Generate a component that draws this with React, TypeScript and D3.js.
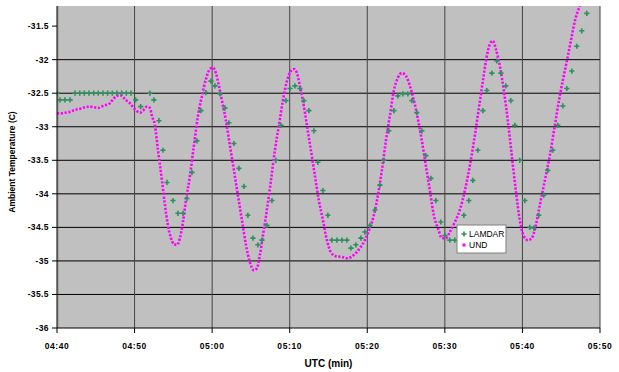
import React from 'react';
import * as d3 from 'd3';

// Axis ticks
const xTickLabels = ['04:40', '04:50', '05:00', '05:10', '05:20', '05:30', '05:40', '05:50'];
const xTickMinutes = [0, 10, 20, 30, 40, 50, 60, 70];
const yTicks = [-36, -35.5, -35, -34.5, -34, -33.5, -33, -32.5, -32, -31.5];

// UND probe: minutes after 04:40 and temperature (C)
const undTime = [
  0, 0.5, 1.03, 1.6, 2.32, 3.0, 3.61, 4.25, 4.8, 5.28,
  5.7, 6.19, 6.83, 7.22, 7.73, 8.05, 8.38, 8.76, 9.41, 10.05,
  10.7, 11.08, 11.6, 11.98, 12.24, 12.63, 13.02, 13.53, 13.92, 14.3,
  14.69, 15.08, 15.46, 15.85, 16.24, 16.62, 17.14, 17.65, 18.17, 18.69,
  19.2, 19.72, 20.1, 20.49, 20.88, 21.26, 21.78, 22.29, 22.81, 23.32,
  23.84, 24.36, 24.87, 25.39, 25.77, 26.16, 26.55, 27.06, 27.58, 28.09,
  28.61, 29.12, 29.64, 30.15, 30.54, 30.93, 31.31, 31.7, 32.22, 32.73,
  33.25, 33.76, 34.28, 34.79, 35.31, 35.95, 36.73, 37.5, 38.27, 39.05,
  39.69, 40.34, 40.85, 41.37, 41.88, 42.4, 42.91, 43.43, 43.94, 44.46,
  44.97, 45.49, 46.01, 46.52, 47.04, 47.55, 48.07, 48.58, 49.1, 49.61,
  50.13, 50.64, 51.29, 51.93, 52.58, 53.22, 53.87, 54.38, 54.9, 55.41,
  55.8, 56.19, 56.57, 57.09, 57.6, 58.12, 58.63, 59.15, 59.66, 60.18,
  60.7, 61.21, 61.73, 62.24, 62.89, 63.53, 64.18, 64.82, 65.46, 66.11,
  66.75, 67.4,
];
const undTemp = [
  -32.80, -32.80, -32.79, -32.78, -32.75, -32.73, -32.71, -32.70, -32.71, -32.72,
  -32.70, -32.68, -32.65, -32.59, -32.54, -32.53, -32.54, -32.59, -32.65, -32.74,
  -32.79, -32.76, -32.70, -32.72, -32.84, -32.98, -33.35, -33.80, -34.17, -34.47,
  -34.66, -34.75, -34.76, -34.66, -34.42, -34.10, -33.73, -33.28, -32.84, -32.54,
  -32.29, -32.14, -32.12, -32.20, -32.39, -32.61, -32.91, -33.28, -33.65, -34.02,
  -34.39, -34.76, -35.02, -35.14, -35.11, -34.91, -34.62, -34.24, -33.80, -33.35,
  -32.98, -32.61, -32.32, -32.17, -32.14, -32.20, -32.39, -32.61, -32.98, -33.35,
  -33.73, -34.10, -34.39, -34.69, -34.87, -34.93, -34.94, -34.96, -34.91, -34.81,
  -34.69, -34.51, -34.32, -34.02, -33.65, -33.21, -32.84, -32.46, -32.27, -32.20,
  -32.24, -32.39, -32.61, -32.88, -33.21, -33.58, -33.95, -34.32, -34.51, -34.66,
  -34.66, -34.57, -34.42, -34.24, -33.95, -33.58, -33.13, -32.73, -32.32, -31.95,
  -31.77, -31.72, -31.84, -32.09, -32.46, -32.91, -33.43, -33.95, -34.39, -34.63,
  -34.69, -34.66, -34.47, -34.17, -33.80, -33.43, -32.98, -32.54, -32.17, -31.80,
  -31.43, -31.20,
];

// LAMDAR probe: minutes after 04:40 and temperature (C)
const lamdarTime = [
  0, 0.39, 1.03, 1.68, 2.32, 2.93, 3.52, 4.12, 4.73, 5.32,
  5.93, 6.53, 7.13, 7.73, 8.34, 8.94, 9.54, 10.14, 10.79, 11.98,
  12.5, 13.14, 13.66, 14.18, 14.95, 15.59, 16.24, 16.75, 17.4, 18.04,
  18.56, 19.2, 19.85, 20.36, 21.01, 21.65, 22.16, 22.81, 23.45, 24.1,
  24.61, 25.26, 25.9, 26.42, 27.06, 27.71, 28.22, 28.87, 29.51, 30.03,
  30.67, 31.31, 31.83, 32.47, 33.12, 33.63, 34.28, 34.92, 35.44, 36.08,
  36.73, 37.37, 37.89, 38.53, 39.18, 39.69, 40.34, 40.98, 41.62, 42.14,
  42.78, 43.43, 43.94, 44.59, 45.23, 45.75, 46.39, 47.04, 47.55, 48.2,
  48.84, 49.48, 50.0, 50.64, 51.29, 51.8, 52.45, 53.09, 53.61, 54.25,
  54.9, 55.41, 56.06, 56.7, 57.22, 57.86, 58.51, 59.02, 59.66, 60.31,
  60.95, 61.47, 62.11, 62.76, 63.27, 63.92, 64.56, 65.21, 65.72, 66.37,
  67.01, 67.65, 68.3,
];
const lamdarTemp = [
  -32.5, -32.6, -32.6, -32.6, -32.5, -32.5, -32.5, -32.5, -32.5, -32.5,
  -32.5, -32.5, -32.5, -32.5, -32.5, -32.5, -32.5, -32.6, -32.7, -32.5,
  -32.6, -32.91, -33.35, -33.83, -34.10, -34.29, -34.29, -34.07, -33.68, -33.21,
  -32.76, -32.49, -32.32, -32.39, -32.51, -32.72, -32.94, -33.25, -33.62, -33.89,
  -34.32, -34.66, -34.76, -34.69, -34.47, -34.10, -33.50, -32.98, -32.61, -32.43,
  -32.39, -32.43, -32.61, -32.76, -33.06, -33.53, -33.95, -34.32, -34.69, -34.69,
  -34.69, -34.69, -34.81, -34.76, -34.66, -34.57, -34.47, -34.24, -33.87, -33.50,
  -33.06, -32.76, -32.54, -32.51, -32.51, -32.61, -32.79, -33.06, -33.43, -33.77,
  -34.10, -34.42, -34.62, -34.69, -34.69, -34.51, -34.32, -34.10, -33.80, -33.35,
  -32.76, -32.46, -32.20, -32.02, -32.20, -32.39, -32.61, -32.98, -33.50, -34.10,
  -34.50, -34.51, -34.32, -34.02, -33.65, -33.35, -32.98, -32.69, -32.43, -32.17,
  -31.80, -31.57, -31.31,
];

const seriesNames = ['LAMDAR', 'UND'];
const LAMDAR_COLOR = '#2f8f5f';
const UND_COLOR = '#ff00ff';

const W = 619;
const H = 372;
const plot = { left: 57, right: 600, top: 6, bottom: 328 };

const plusPath = 'M-2.6,0H2.6M0,-2.6V2.6';

export default function App() {
  const x = d3.scaleLinear().domain([0, 70]).range([plot.left, plot.right]);
  const y = d3.scaleLinear().domain([-36, -31.2]).range([plot.bottom, plot.top]);

  const und = undTime.map((t, i) => [t, undTemp[i]] as [number, number]);
  const lamdar = lamdarTime.map((t, i) => [t, lamdarTemp[i]] as [number, number]);

  const undLine = d3
    .line<[number, number]>()
    .x((d) => x(d[0]))
    .y((d) => y(d[1]))
    .curve(d3.curveMonotoneX);

  const font = 'Arial, "Liberation Sans", sans-serif';

  return (
    <svg
      width={W}
      height={H}
      style={{ position: 'absolute', left: 0, top: 0, background: '#fff' }}
      fontFamily={font}
    >
      <defs>
        <clipPath id="plot-clip">
          <rect x={plot.left} y={plot.top} width={plot.right - plot.left} height={plot.bottom - plot.top} />
        </clipPath>
      </defs>

      {/* plot area */}
      <rect
        x={plot.left}
        y={plot.top}
        width={plot.right - plot.left}
        height={plot.bottom - plot.top}
        fill="#c0c0c0"
      />
      <rect x={plot.left} y={plot.top} width={2} height={plot.bottom - plot.top} fill="#a8a8a8" />

      {/* horizontal gridlines */}
      {yTicks
        .filter((v) => v > -36 && v < -31.5)
        .map((v) => (
          <line key={`hg${v}`} x1={plot.left} x2={plot.right} y1={y(v)} y2={y(v)} stroke="#000" strokeWidth={1} />
        ))}

      {/* vertical gridlines */}
      {xTickMinutes.slice(1).map((m) => (
        <line key={`vg${m}`} x1={x(m)} x2={x(m)} y1={plot.top} y2={plot.bottom} stroke="#444" strokeWidth={1} />
      ))}

      {/* series */}
      <g clipPath="url(#plot-clip)">
        <path
          d={undLine(und) ?? ''}
          fill="none"
          stroke={UND_COLOR}
          strokeWidth={2.6}
          strokeDasharray="2.2 1.6"
        />
        {lamdar.map((d, i) => (
          <path
            key={`l${i}`}
            d={plusPath}
            transform={`translate(${x(d[0])},${y(d[1])})`}
            stroke={LAMDAR_COLOR}
            strokeWidth={1.6}
            fill="none"
          />
        ))}
      </g>

      {/* axes */}
      <line x1={plot.left} x2={plot.left} y1={plot.top} y2={plot.bottom} stroke="#000" strokeWidth={1} />
      <line x1={plot.left} x2={plot.right} y1={plot.bottom} y2={plot.bottom} stroke="#000" strokeWidth={1} />

      {yTicks.map((v) => (
        <g key={`yt${v}`}>
          <line x1={plot.left - 5} x2={plot.left} y1={y(v)} y2={y(v)} stroke="#000" />
          <text
            x={plot.left - 8}
            y={y(v)}
            dy="0.35em"
            textAnchor="end"
            fontSize={8.5}
            fontWeight="bold"
            letterSpacing={0.4}
          >
            {String(v)}
          </text>
        </g>
      ))}

      {xTickMinutes.map((m, i) => (
        <g key={`xt${m}`}>
          <line x1={x(m)} x2={x(m)} y1={plot.bottom} y2={plot.bottom + 5} stroke="#000" />
          <text x={x(m)} y={plot.bottom + 21} textAnchor="middle" fontSize={8.5} fontWeight="bold" letterSpacing={0.6}>
            {xTickLabels[i]}
          </text>
        </g>
      ))}

      {/* axis titles */}
      <text x={(plot.left + plot.right) / 2} y={367} textAnchor="middle" fontSize={10} fontWeight="bold">
        UTC (min)
      </text>
      <text
        transform={`translate(15,${(plot.top + plot.bottom) / 2 - 5}) rotate(-90)`}
        textAnchor="middle"
        fontSize={8.5}
        fontWeight="bold"
      >
        Ambient Temperature (C)
      </text>

      {/* legend */}
      <g transform="translate(457,225)">
        <rect x={0} y={0} width={49} height={28} fill="#fff" stroke="#808080" strokeWidth={1} />
        <path d={plusPath} transform="translate(7,9)" stroke={LAMDAR_COLOR} strokeWidth={1.6} fill="none" />
        <text x={12} y={12} fontSize={8.5}>
          {seriesNames[0]}
        </text>
        <rect x={5.5} y={18.5} width={3} height={3} fill={UND_COLOR} />
        <text x={12} y={23} fontSize={8.5}>
          {seriesNames[1]}
        </text>
      </g>
    </svg>
  );
}
